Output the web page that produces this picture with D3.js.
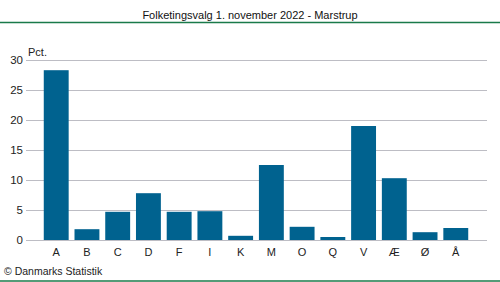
<!DOCTYPE html>
<html><head><meta charset="utf-8">
<script src="https://cdn.jsdelivr.net/npm/d3@7"></script>
<style>body{margin:0;background:#fff}svg{display:block}text{font-family:"Liberation Sans",Arial,sans-serif}</style>
</head><body>
<script>
const categories = ["A","B","C","D","F","I","K","M","O","Q","V","Æ","Ø","Å"];
const values = [28.3,1.8,4.7,7.8,4.7,4.8,0.7,12.5,2.2,0.5,19.0,10.3,1.3,2.0];
const yTicks = [0,5,10,15,20,25,30];
const title = "Folketingsvalg 1. november 2022 - Marstrup";

const W=500,H=282;
const svg=d3.select("body").append("svg").attr("width",W).attr("height",H);
svg.append("text").attr("x",250).attr("y",19).attr("text-anchor","middle").attr("font-size",11).attr("fill","#111").text(title);
svg.append("line").attr("x1",0).attr("x2",W).attr("y1",22.5).attr("y2",22.5).attr("stroke","#1a7a4a").attr("stroke-width",1.5);
svg.append("line").attr("x1",0).attr("x2",W).attr("y1",281).attr("y2",281).attr("stroke","#1a7a4a").attr("stroke-width",1.5);

const y=d3.scaleLinear().domain([0,30]).range([240,60]);
const x=d3.scaleBand().domain(categories).range([41,471]).paddingInner(0.19).paddingOuter(0.09);

const gy=svg.append("g").attr("transform","translate(26,0)")
  .call(d3.axisLeft(y).tickValues(yTicks).tickSize(-461).tickPadding(3));
gy.select(".domain").remove();
gy.selectAll(".tick line").attr("stroke","#bdbdc4");
gy.selectAll(".tick text").attr("font-size",11.5).attr("fill","#222").attr("font-family","Liberation Sans, Arial, sans-serif");

svg.append("text").attr("x",28).attr("y",56).attr("font-size",11).attr("fill","#222").text("Pct.");

svg.selectAll("rect.bar").data(values).enter().append("rect").attr("class","bar")
  .attr("x",(d,i)=>x(categories[i])).attr("width",x.bandwidth())
  .attr("y",d=>y(d)).attr("height",d=>y(0)-y(d)).attr("fill","#00628f");

const gx=svg.append("g").attr("transform","translate(0,240)")
  .call(d3.axisBottom(x).tickSize(0).tickPadding(8));
gx.select(".domain").remove();
gx.selectAll(".tick text").attr("font-size",11).attr("fill","#222").attr("font-family","Liberation Sans, Arial, sans-serif");

svg.append("line").attr("x1",26).attr("x2",487).attr("y1",240.5).attr("y2",240.5).attr("stroke","#bdbdc4");

svg.append("text").attr("x",4).attr("y",275).attr("font-size",10.5).attr("fill","#222").text("© Danmarks Statistik");
</script>
</body></html>
